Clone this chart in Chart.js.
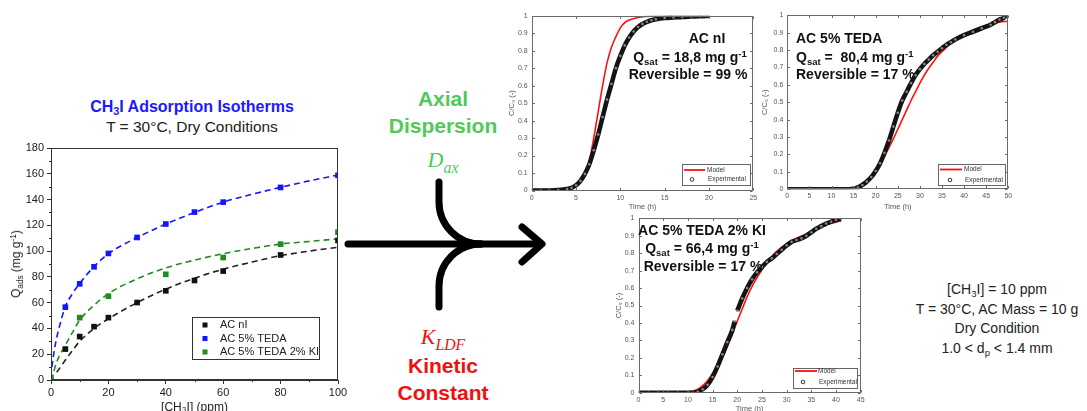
<!DOCTYPE html>
<html>
<head>
<meta charset="utf-8">
<script src="https://cdn.jsdelivr.net/npm/chart.js@4.4.1/dist/chart.umd.min.js"></script>
<style>
  html, body { margin: 0; padding: 0; background: #fff; }
  #stage { position: relative; width: 1087px; height: 411px; overflow: hidden;
           font-family: "Liberation Sans", Arial, sans-serif; }
  canvas.c { position: absolute; }
  .t { position: absolute; white-space: nowrap; line-height: 1; }
  .cc { transform: translate(-50%, -50%); text-align: center; }
  .lc { transform: translateY(-50%); }
  sub, sup { font-size: 68%; line-height: 0; }
  sub { vertical-align: -0.32em; }
  sup { vertical-align: 0.55em; }
  .note { font-weight: bold; font-size: 14px; color: #111; }
  .math { font-family: "Liberation Serif", "DejaVu Serif", serif; font-style: italic; font-size: 22px; }
  .math sub { font-size: 72%; vertical-align: -0.35em; }
  .big { font-weight: bold; font-size: 21px; }
  .cond { font-size: 14px; color: #222; }
</style>
</head>
<body>
<div id="stage">
  <!-- central scheme: axial dispersion + kinetic constant feeding the model -->
  <svg width="1087" height="411" style="position:absolute;left:0;top:0" fill="none" stroke="#000" stroke-width="7" stroke-linecap="round" stroke-linejoin="round">
    <path d="M348,244 L540,244"/>
    <path d="M522,227 L542,244 L522,262"/>
    <path d="M439,182 L439,202 A42,42 0 0 0 481,244"/>
    <path d="M439,307 L439,286 A42,42 0 0 1 481,244"/>
  </svg>

  <canvas id="iso" class="c" width="352" height="273" style="left:0px;top:138px;width:352px;height:273px"></canvas>
  <canvas id="btNI" class="c" width="262" height="208" style="left:500px;top:6px;width:262px;height:208px"></canvas>
  <canvas id="btTEDA" class="c" width="257" height="208" style="left:760px;top:6px;width:257px;height:208px"></canvas>
  <canvas id="btKI" class="c" width="256" height="203" style="left:612px;top:208px;width:256px;height:203px"></canvas>

  <div class="t cc" style="left:192px;top:107px;font-size:16px;font-weight:bold;color:#1a1aff">CH<sub>3</sub>I Adsorption Isotherms</div>
  <div class="t cc" style="left:192px;top:127px;font-size:15.5px;color:#222">T = 30°C, Dry Conditions</div>
  <div class="t" style="left:16px;top:264px;font-size:12px;color:#222;transform:translate(-50%,-50%) rotate(-90deg)">Q<sub>ads</sub> (mg g<sup>-1</sup>)</div>

  <div class="t cc big" style="left:443px;top:98px;color:#4fc95b">Axial</div>
  <div class="t cc big" style="left:443px;top:125px;color:#4fc95b">Dispersion</div>
  <div class="t cc math" style="left:443px;top:160px;color:#4fc95b">D<sub>ax</sub></div>
  <div class="t cc math" style="left:443px;top:337px;color:#f01010">K<sub>LDF</sub></div>
  <div class="t cc big" style="left:443px;top:365px;color:#f01010">Kinetic</div>
  <div class="t cc big" style="left:443px;top:392px;color:#f01010">Constant</div>

  <div class="t cc note" style="left:707px;top:38px">AC nI</div>
  <div class="t cc note" style="left:690px;top:57px">Q<sub>sat</sub> = 18,8 mg g<sup>-1</sup></div>
  <div class="t cc note" style="left:688px;top:74px">Reversible = 99 %</div>

  <div class="t lc note" style="left:796px;top:38px">AC 5% TEDA</div>
  <div class="t lc note" style="left:796px;top:57px">Q<sub>sat</sub> =&nbsp; 80,4 mg g<sup>-1</sup></div>
  <div class="t lc note" style="left:796px;top:74px">Reversible = 17 %</div>

  <div class="t cc note" style="left:702px;top:230px">AC 5% TEDA 2% KI</div>
  <div class="t cc note" style="left:702px;top:248px">Q<sub>sat</sub> = 66,4 mg g<sup>-1</sup></div>
  <div class="t cc note" style="left:703px;top:266px">Reversible = 17 %</div>

  <div class="t cc cond" style="left:997px;top:289px">[CH<sub>3</sub>I] = 10 ppm</div>
  <div class="t cc cond" style="left:997px;top:309px">T = 30°C, AC Mass = 10 g</div>
  <div class="t cc cond" style="left:997px;top:328px">Dry Condition</div>
  <div class="t cc cond" style="left:997px;top:348px">1.0 &lt; d<sub>p</sub> &lt; 1.4 mm</div>
</div>

<script>
// ---- CH3I adsorption isotherms, 30 °C, dry (concentration in ppm, uptake in mg/g)
const isoConcNI   = [5, 10, 15, 20, 30, 40, 50, 60, 80, 100];
const isoQNI      = [24, 33.7, 41.4, 48.4, 60.1, 69.2, 77.2, 84.5, 97, 108.3];
const isoConcTEDA = [5, 10, 15, 20, 30, 40, 50, 60, 80, 100];
const isoQTEDA    = [56.5, 74.6, 87.8, 98.2, 110.6, 121, 130.3, 138, 149.4, 158.8];
const isoConcKI   = [0, 10, 20, 40, 60, 80, 100];
const isoQKI      = [2, 48.4, 65, 82, 95, 105.4, 114.7];

// fitted isotherm curves (dashed)
const fitConcNI   = [2, 3, 5, 7.5, 10, 15, 20, 30, 40, 50, 60, 70, 80, 90, 100];
const fitQNI      = [6, 9, 15.5, 23, 30, 40, 47.5, 60, 70.5, 79, 86, 91.5, 96.5, 100, 103];
const fitConcTEDA = [0.3, 1, 2, 3, 5, 7.5, 10, 15, 20, 30, 40, 50, 60, 70, 80, 90, 100];
const fitQTEDA    = [10, 21, 33, 42, 57, 67, 75, 88, 98, 110.5, 121, 130, 138, 144, 149.5, 154.5, 159];
const fitConcKI   = [1, 2, 3, 5, 7.5, 10, 15, 20, 30, 40, 50, 60, 70, 80, 90, 100];
const fitQKI      = [7, 14, 19, 27, 37, 46.5, 58, 67, 78.5, 87, 93, 98, 102, 105.5, 107.5, 109.5];

const isoXTicks = [0, 20, 40, 60, 80, 100];
const isoYTicks = [0, 20, 40, 60, 80, 100, 120, 140, 160, 180];

// ---- breakthrough curves, C/C0 versus time (h)
const btTimeExpNI   = [0, 1, 2, 3, 4, 4.5, 5, 5.5, 6, 6.5, 7, 7.5, 8, 8.5, 9, 9.5, 10, 10.5, 11, 11.5, 12, 12.5, 13, 13.5, 14, 15, 16, 17, 18, 19, 20];
const btExpNI       = [0, 0, 0, 0.002, 0.008, 0.015, 0.03, 0.055, 0.095, 0.15, 0.23, 0.32, 0.42, 0.52, 0.61, 0.7, 0.77, 0.83, 0.875, 0.91, 0.935, 0.953, 0.965, 0.974, 0.98, 0.987, 0.99, 0.993, 0.995, 0.997, 1.0];
const btTimeModelNI = [0, 3, 4, 4.5, 5, 5.5, 6, 6.5, 7, 7.5, 8, 8.5, 9, 9.5, 10, 10.5, 11, 12, 13, 14, 15, 16];
const btModelNI     = [0, 0.001, 0.005, 0.012, 0.025, 0.05, 0.09, 0.17, 0.3, 0.45, 0.6, 0.73, 0.82, 0.88, 0.93, 0.96, 0.975, 0.99, 0.996, 0.999, 1, 1];

const btTimeExpTEDA   = [0, 2, 4, 6, 8, 10, 12, 14, 15, 16, 17, 18, 19, 20, 21, 22, 23, 24, 25, 26, 27, 28, 29, 30, 31, 32, 33, 34, 35, 36, 37, 38, 40, 42, 44, 46, 47, 48, 49, 49.5];
const btExpTEDA       = [0, 0, 0, 0, 0, 0, 0, 0, 0.003, 0.01, 0.025, 0.045, 0.07, 0.105, 0.15, 0.21, 0.28, 0.36, 0.44, 0.51, 0.56, 0.61, 0.655, 0.69, 0.72, 0.745, 0.77, 0.79, 0.81, 0.83, 0.845, 0.86, 0.885, 0.905, 0.925, 0.945, 0.96, 0.975, 0.985, 1.0];
const btTimeModelTEDA = [0, 13, 14, 15, 16, 17, 18, 19, 20, 21, 22, 23, 24, 25, 26, 27, 28, 29, 30, 31, 32, 33, 34, 35, 36, 37, 38, 40, 42, 44, 46, 48, 50];
const btModelTEDA     = [0, 0, 0.003, 0.01, 0.02, 0.035, 0.055, 0.08, 0.11, 0.145, 0.19, 0.24, 0.29, 0.345, 0.4, 0.455, 0.51, 0.56, 0.61, 0.655, 0.695, 0.73, 0.765, 0.79, 0.815, 0.84, 0.86, 0.89, 0.915, 0.935, 0.95, 0.96, 0.965];

const btTimeExpKI   = [0, 2, 4, 6, 8, 10, 11, 12, 13, 14, 15, 16, 17, 18, 19, 19.5, 19.75, 20, 21, 22, 23, 24, 25, 26, 27, 28, 29, 30, 31, 32, 33, 34, 35, 36, 37, 38, 39, 40, 41];
const btExpKI       = [0, 0, 0, 0, 0, 0, 0, 0.005, 0.02, 0.045, 0.09, 0.15, 0.22, 0.29, 0.36, 0.41, null, 0.47, 0.54, 0.6, 0.65, 0.69, 0.72, 0.75, 0.77, 0.795, 0.82, 0.845, 0.865, 0.875, 0.885, 0.9, 0.92, 0.94, 0.955, 0.97, 0.98, 0.99, 1.0];
const btTimeModelKI = [0, 9, 10, 11, 12, 13, 14, 15, 16, 17, 18, 19, 20, 21, 22, 23, 24, 25, 26, 27, 28, 29, 30, 31, 32, 33, 34, 35, 36, 37, 38, 39, 40, 41];
const btModelKI     = [0, 0, 0.003, 0.01, 0.02, 0.04, 0.07, 0.11, 0.145, 0.2, 0.265, 0.335, 0.41, 0.48, 0.55, 0.61, 0.66, 0.705, 0.745, 0.78, 0.81, 0.835, 0.855, 0.87, 0.885, 0.898, 0.91, 0.925, 0.94, 0.953, 0.963, 0.972, 0.978, 0.985];

const btYTicks = [0, 0.1, 0.2, 0.3, 0.4, 0.5, 0.6, 0.7, 0.8, 0.9, 1];

const pairs = (xs, ys) => xs.map((x, i) => ({ x, y: ys[i] }));

Chart.defaults.font.family = '"Liberation Sans", Arial, sans-serif';
Chart.defaults.animation = false;
Chart.defaults.devicePixelRatio = 1;

// box around the plot area, with optional inward or outward tick marks
const framePlugin = {
  id: 'frame',
  afterDraw(chart, _args, o) {
    if (!o || !o.color) return;
    const { ctx, chartArea: a, scales } = chart;
    const L = Math.round(a.left) + 0.5, R = Math.round(a.right) - 0.5;
    const T = Math.round(a.top) + 0.5, B = Math.round(a.bottom) - 0.5;
    ctx.save();
    ctx.strokeStyle = o.color;
    ctx.lineWidth = 1;
    ctx.strokeRect(L, T, R - L, B - T);
    ctx.beginPath();
    const tickX = (vals, len, both) => vals.forEach(v => {
      const px = Math.round(scales.x.getPixelForValue(v)) + 0.5;
      ctx.moveTo(px, B); ctx.lineTo(px, B - len);
      if (both) { ctx.moveTo(px, T); ctx.lineTo(px, T + len); }
    });
    const tickY = (vals, len, both) => vals.forEach(v => {
      const py = Math.round(scales.y.getPixelForValue(v)) + 0.5;
      ctx.moveTo(L, py); ctx.lineTo(L + len, py);
      if (both) { ctx.moveTo(R, py); ctx.lineTo(R - len, py); }
    });
    if (o.inX) tickX(o.inX, o.inLen, true);
    if (o.inY) tickY(o.inY, o.inLen, true);
    if (o.minorX) tickX(o.minorX, -o.minorLen, false);
    if (o.minorY) tickY(o.minorY, -o.minorLen, false);
    ctx.stroke();
    ctx.restore();
  }
};

// boxed legend placed inside the plot area (page coordinates, shifted by the canvas offset)
const boxLegend = {
  id: 'boxLegend',
  afterDraw(chart, _args, o) {
    if (!o || !o.box) return;
    const ctx = chart.ctx;
    const [dx, dy] = o.offset;
    const [x0, y0, x1, y1] = o.box;
    ctx.save();
    ctx.fillStyle = '#fff';
    ctx.fillRect(x0 - dx, y0 - dy, x1 - x0, y1 - y0);
    ctx.strokeStyle = o.borderColor;
    ctx.lineWidth = 1;
    ctx.strokeRect(Math.round(x0 - dx) + 0.5, Math.round(y0 - dy) + 0.5, Math.round(x1 - x0), Math.round(y1 - y0));
    ctx.font = o.font;
    ctx.textBaseline = 'middle';
    o.rows.forEach(r => {
      const ds = chart.data.datasets[r.dataset];
      const y = r.y - dy;
      if (r.kind === 'line') {
        ctx.strokeStyle = ds.borderColor; ctx.lineWidth = r.lw;
        ctx.beginPath(); ctx.moveTo(r.mx[0] - dx, y); ctx.lineTo(r.mx[1] - dx, y); ctx.stroke();
      } else if (r.kind === 'square') {
        ctx.fillStyle = ds.pointBackgroundColor;
        ctx.fillRect(r.mx - dx - r.s / 2, y - r.s / 2, r.s, r.s);
      } else if (r.kind === 'circle') {
        ctx.strokeStyle = '#222'; ctx.lineWidth = 0.9;
        ctx.beginPath(); ctx.arc(r.mx - dx, y, r.s, 0, Math.PI * 2); ctx.stroke();
      }
      ctx.fillStyle = o.textColor;
      ctx.fillText(ds.label, r.tx - dx, y);
    });
    ctx.restore();
  }
};

Chart.register(framePlugin, boxLegend);

const fixW = w => scale => { scale.width = w; };
const fixH = h => scale => { scale.height = h; };

// ---------------- isotherm chart ----------------
const blue = '#1414ff', green = '#1e8c1e', black = '#111';
const sq = (label, xs, ys, c) => ({
  label, data: pairs(xs, ys), showLine: false, pointStyle: 'rect', pointRadius: 4, pointHoverRadius: 4,
  pointBackgroundColor: c, pointBorderColor: c, pointBorderWidth: 0, borderColor: c, order: 0
});
const dash = (label, xs, ys, c) => ({
  label, data: pairs(xs, ys), showLine: true, pointRadius: 0, borderColor: c, borderWidth: 1.6,
  borderDash: [6, 4], cubicInterpolationMode: 'monotone', order: 1
});

new Chart(document.getElementById('iso'), {
  type: 'scatter',
  data: {
    datasets: [
      sq('AC nI', isoConcNI, isoQNI, black),
      sq('AC 5% TEDA', isoConcTEDA, isoQTEDA, blue),
      sq('AC 5% TEDA 2% KI', isoConcKI, isoQKI, green),
      dash('AC nI fit', fitConcNI, fitQNI, '#222'),
      dash('AC 5% TEDA fit', fitConcTEDA, fitQTEDA, blue),
      dash('AC 5% TEDA 2% KI fit', fitConcKI, fitQKI, green)
    ]
  },
  options: {
    responsive: false,
    layout: { padding: { left: 0, right: 14, top: 10, bottom: 0 } },
    plugins: {
      legend: { display: false },
      tooltip: { enabled: false },
      frame: { color: '#333', minorX: [10, 30, 50, 70, 90], minorY: [10, 30, 50, 70, 90, 110, 130, 150, 170], minorLen: 2.5 },
      boxLegend: {
        offset: [0, 138], box: [192, 317, 319, 359], borderColor: '#333',
        font: '11px "Liberation Sans", Arial, sans-serif', textColor: '#222',
        rows: [
          { dataset: 0, kind: 'square', mx: 205, s: 5, tx: 220, y: 325 },
          { dataset: 1, kind: 'square', mx: 205, s: 5, tx: 220, y: 338.5 },
          { dataset: 2, kind: 'square', mx: 205, s: 5, tx: 220, y: 352 }
        ]
      }
    },
    scales: {
      x: {
        type: 'linear', min: 0, max: 100, afterFit: fixH(31),
        afterBuildTicks: s => { s.ticks = isoXTicks.map(v => ({ value: v })); },
        ticks: { color: '#222', font: { size: 11 }, padding: 2 },
        grid: { drawOnChartArea: false, drawTicks: true, tickLength: 4, color: '#333' },
        border: { color: '#333' },
        title: { display: true, text: '[CH₃I] (ppm)', color: '#222', font: { size: 12 }, padding: { top: 0, bottom: -4 } }
      },
      y: {
        type: 'linear', min: 0, max: 180, afterFit: fixW(51),
        afterBuildTicks: s => { s.ticks = isoYTicks.map(v => ({ value: v })); },
        ticks: { color: '#222', font: { size: 11 }, padding: 3 },
        grid: { drawOnChartArea: false, drawTicks: true, tickLength: 4, color: '#333' },
        border: { color: '#333' }
      }
    }
  }
});

// ---------------- breakthrough charts ----------------
function breakthrough(id, o) {
  return new Chart(document.getElementById(id), {
    type: 'line',
    data: {
      datasets: [
        { label: 'Model', data: pairs(o.modelT, o.modelC), borderColor: '#ff1010', borderWidth: 1.6,
          pointRadius: 0, cubicInterpolationMode: 'monotone', order: 1 },
        { label: 'Experimental', data: pairs(o.expT, o.expC), borderColor: '#141414', borderWidth: 4.6,
          pointRadius: 1.3, pointBorderWidth: 0, pointBackgroundColor: '#8a8a8a',
          cubicInterpolationMode: 'monotone', spanGaps: false, order: 0 }
      ]
    },
    options: {
      responsive: false,
      layout: { padding: { left: 0, right: o.padR, top: o.padT, bottom: 0 } },
      plugins: {
        legend: { display: false },
        tooltip: { enabled: false },
        frame: { color: '#6a6a6a', inX: o.xTicks, inY: btYTicks, inLen: 2.5 },
        boxLegend: {
          offset: o.offset, box: o.legBox, borderColor: '#666',
          font: '6.5px "Liberation Sans", Arial, sans-serif', textColor: '#333',
          rows: [
            { dataset: 0, kind: 'line', mx: o.legLine, lw: 1.8, tx: o.legText, y: o.legY[0] },
            { dataset: 1, kind: 'circle', mx: o.legCircle, s: 1.8, tx: o.legText + 1, y: o.legY[1] }
          ]
        }
      },
      scales: {
        x: {
          type: 'linear', min: 0, max: o.xMax, afterFit: fixH(o.xH),
          afterBuildTicks: s => { s.ticks = o.xTicks.map(v => ({ value: v })); },
          ticks: { color: '#555', font: { size: 7 }, padding: 3 },
          grid: { display: true, drawOnChartArea: false, drawTicks: false },
          border: { display: false },
          title: { display: true, text: 'Time (h)', color: '#555', font: { size: 7.5 }, padding: { top: 0, bottom: o.xTitlePad } }
        },
        y: {
          type: 'linear', min: 0, max: 1, afterFit: fixW(o.yW),
          afterBuildTicks: s => { s.ticks = btYTicks.map(v => ({ value: v })); },
          ticks: { color: '#555', font: { size: 7 }, padding: 4, callback: v => String(+v.toFixed(1)) },
          grid: { display: true, drawOnChartArea: false, drawTicks: false },
          border: { display: false },
          title: { display: true, text: 'C/C₀ (-)', color: '#555', font: { size: 7.5 }, padding: { top: o.yTitlePad, bottom: 0 } }
        }
      }
    }
  });
}

breakthrough('btNI', {
  expT: btTimeExpNI, expC: btExpNI, modelT: btTimeModelNI, modelC: btModelNI,
  xMax: 25, xTicks: [0, 5, 10, 15, 20, 25],
  yW: 31.7, xH: 23.5, padR: 8.7, padT: 9.7, yTitlePad: 7.8, xTitlePad: 3,
  offset: [500, 6], legBox: [682, 164, 750, 185], legLine: [684, 705], legCircle: 692, legText: 707, legY: [170, 179.5]
});

breakthrough('btTEDA', {
  expT: btTimeExpTEDA, expC: btExpTEDA, modelT: btTimeModelTEDA, modelC: btModelTEDA,
  xMax: 50, xTicks: [0, 5, 10, 15, 20, 25, 30, 35, 40, 45, 50],
  yW: 27.3, xH: 24.7, padR: 8.7, padT: 9.2, yTitlePad: 0.8, xTitlePad: 3,
  offset: [760, 6], legBox: [938, 164, 1005, 185], legLine: [940, 962], legCircle: 950, legText: 964, legY: [169.5, 180]
});

breakthrough('btKI', {
  expT: btTimeExpKI, expC: btExpKI, modelT: btTimeModelKI, modelC: btModelKI,
  xMax: 45, xTicks: [0, 5, 10, 15, 20, 25, 30, 35, 40, 45],
  yW: 26.5, xH: 18.3, padR: 7.3, padT: 10.3, yTitlePad: 2.8, xTitlePad: -2.2,
  offset: [612, 208], legBox: [793, 368, 857, 388], legLine: [795, 817], legCircle: 803, legText: 818, legY: [371, 382]
});
</script>
</body>
</html>
